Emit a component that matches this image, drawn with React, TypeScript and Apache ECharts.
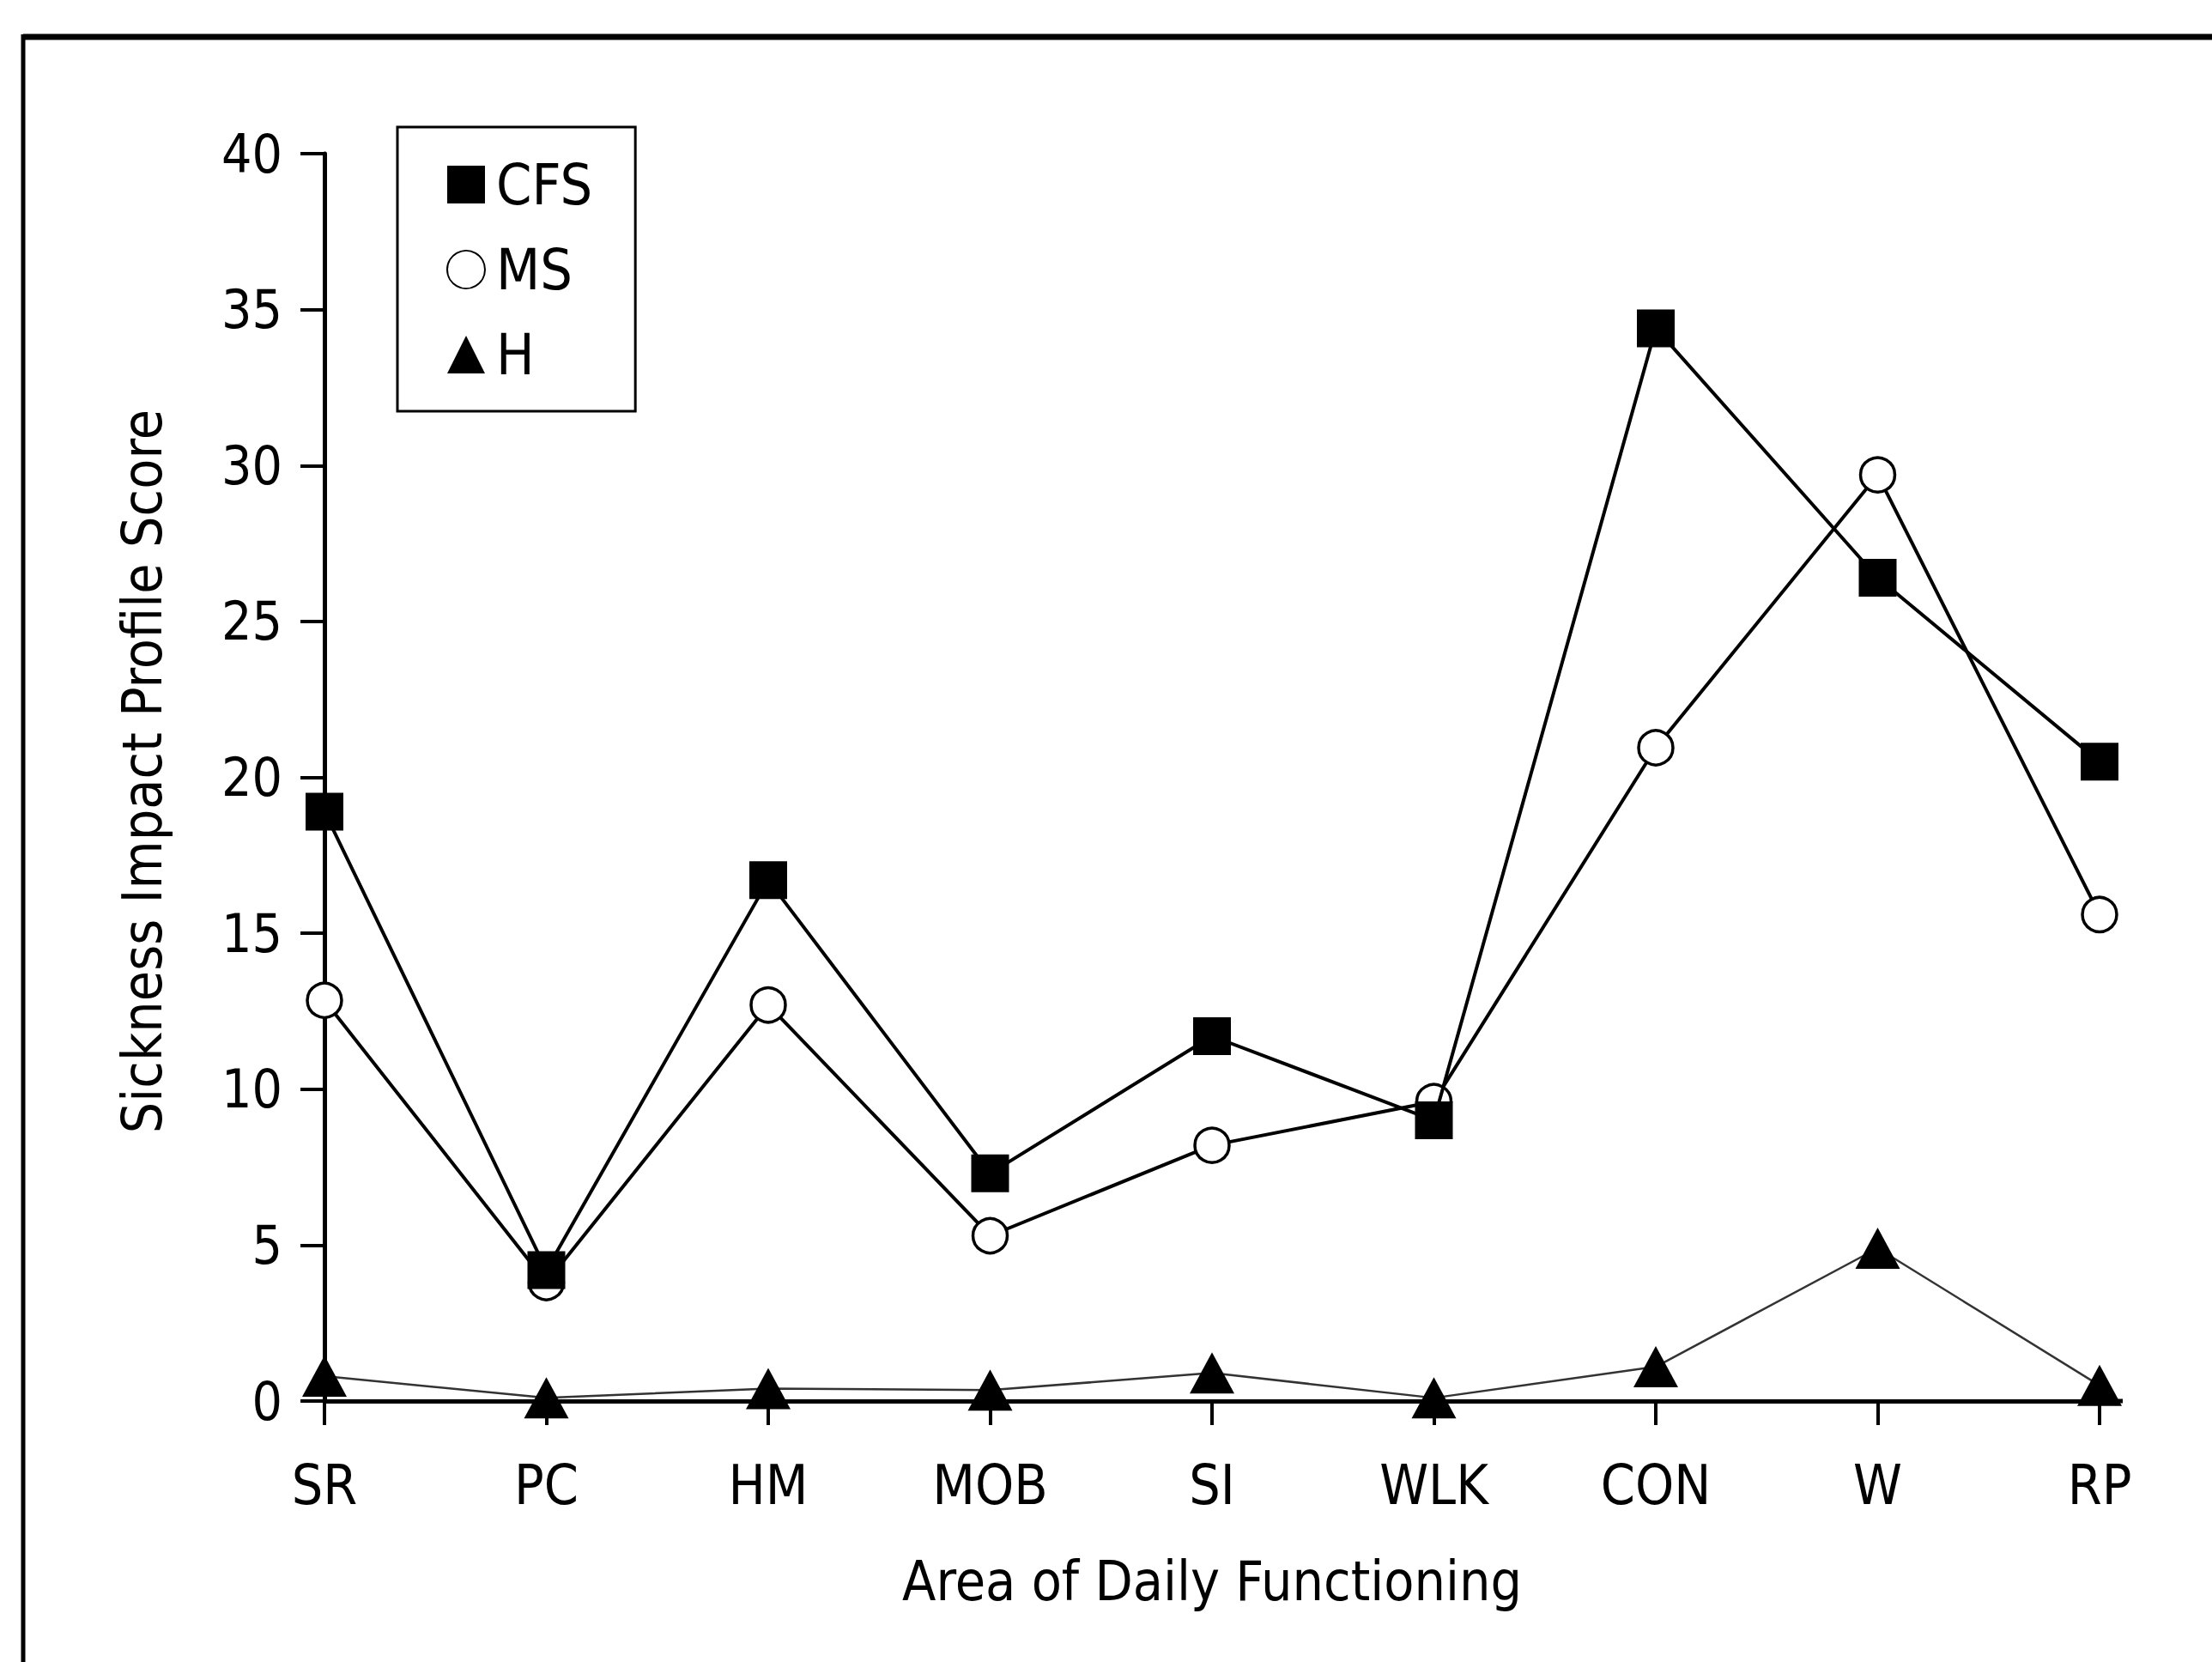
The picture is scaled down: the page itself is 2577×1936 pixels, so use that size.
import React, { useEffect, useRef } from "react";
import * as echarts from "echarts";

const categories = ["SR", "PC", "HM", "MOB", "SI", "WLK", "CON", "W", "RP"];
const cfsValues = [18.9, 4.2, 16.7, 7.3, 11.7, 9.0, 34.4, 26.4, 20.5];
const msValues = [12.85, 3.8, 12.7, 5.3, 8.2, 9.6, 20.95, 29.7, 15.6];
const hValues = [0.8, 0.1, 0.4, 0.35, 0.9, 0.1, 1.1, 4.9, 0.5];
const seriesNames = ["CFS", "MS", "H"];
const yTitle = "Sickness Impact Profile Score";
const xTitle = "Area of Daily Functioning";

const FONT = "'Liberation Sans Narrow', 'Arial Narrow', 'DejaVu Sans Condensed', 'Liberation Sans', Arial, sans-serif";

export default function App() {
  const ref = useRef<HTMLDivElement>(null);
  useEffect(() => {
    if (!ref.current) return;
    const chart = echarts.init(ref.current, undefined, { renderer: "svg" });
    chart.setOption({
      animation: false,
      backgroundColor: "#fff",
      textStyle: { fontFamily: FONT, color: "#000" },
      grid: { left: 378, right: 131, top: 179, bottom: 304, containLabel: false },
      legend: {
        orient: "vertical",
        left: 463,
        top: 148,
        padding: [34, 50, 33, 57],
        itemWidth: 44,
        itemHeight: 44,
        itemGap: 33,
        borderColor: "#000",
        borderWidth: 3,
        textStyle: { fontFamily: FONT, fontSize: 66, lineHeight: 64, color: "#000", padding: [0, 0, 0, 8] },
        data: [
          { name: seriesNames[0], icon: "rect" },
          { name: seriesNames[1], icon: "circle" },
          { name: seriesNames[2], icon: "triangle" },
        ],
      },
      xAxis: {
        type: "category",
        data: categories,
        boundaryGap: false,
        name: xTitle,
        nameLocation: "middle",
        nameGap: 178,
        nameTextStyle: { fontFamily: FONT, fontSize: 64, color: "#000" },
        axisLine: { lineStyle: { color: "#000", width: 5 } },
        axisTick: { length: 28, lineStyle: { color: "#000", width: 4 } },
        axisLabel: { margin: 66, fontFamily: FONT, fontSize: 64, color: "#000" },
        splitLine: { show: false },
      },
      yAxis: {
        type: "value",
        min: 0,
        max: 40,
        interval: 5,
        name: yTitle,
        nameLocation: "middle",
        nameRotate: 90,
        nameGap: 180,
        nameTextStyle: { fontFamily: FONT, fontSize: 64, color: "#000", padding: [0, 0, 0, 14] },
        axisLine: { show: true, lineStyle: { color: "#000", width: 5 } },
        axisTick: { show: true, length: 28, lineStyle: { color: "#000", width: 4 } },
        axisLabel: { margin: 49, fontFamily: FONT, fontSize: 62, color: "#000" },
        splitLine: { show: false },
      },
      graphic: [
        { type: "line", shape: { x1: 27, y1: 43, x2: 2577, y2: 43 }, style: { stroke: "#000", lineWidth: 7 } },
        { type: "line", shape: { x1: 27, y1: 40, x2: 27, y2: 1936 }, style: { stroke: "#000", lineWidth: 5 } },
        { type: "line", shape: { x1: 2440, y1: 1632, x2: 2473, y2: 1632 }, style: { stroke: "#000", lineWidth: 5 } },
      ],
      series: [
        {
          name: seriesNames[2],
          type: "line",
          data: hValues,
          symbol: "triangle",
          symbolSize: [52, 48],
          itemStyle: { color: "#000" },
          lineStyle: { color: "#333", width: 2.5 },
          z: 2,
        },
        {
          name: seriesNames[1],
          type: "line",
          data: msValues,
          symbol: "circle",
          symbolSize: 40,
          itemStyle: { color: "#fff", borderColor: "#000", borderWidth: 3.5 },
          lineStyle: { color: "#000", width: 4 },
          z: 3,
        },
        {
          name: seriesNames[0],
          type: "line",
          data: cfsValues,
          symbol: "rect",
          symbolSize: 44,
          itemStyle: { color: "#000" },
          lineStyle: { color: "#000", width: 4 },
          z: 4,
        },
      ],
    });
    return () => chart.dispose();
  }, []);
  return (
    <div
      ref={ref}
      style={{ position: "fixed", left: 0, top: 0, width: 2577, height: 1936, background: "#fff" }}
    />
  );
}
